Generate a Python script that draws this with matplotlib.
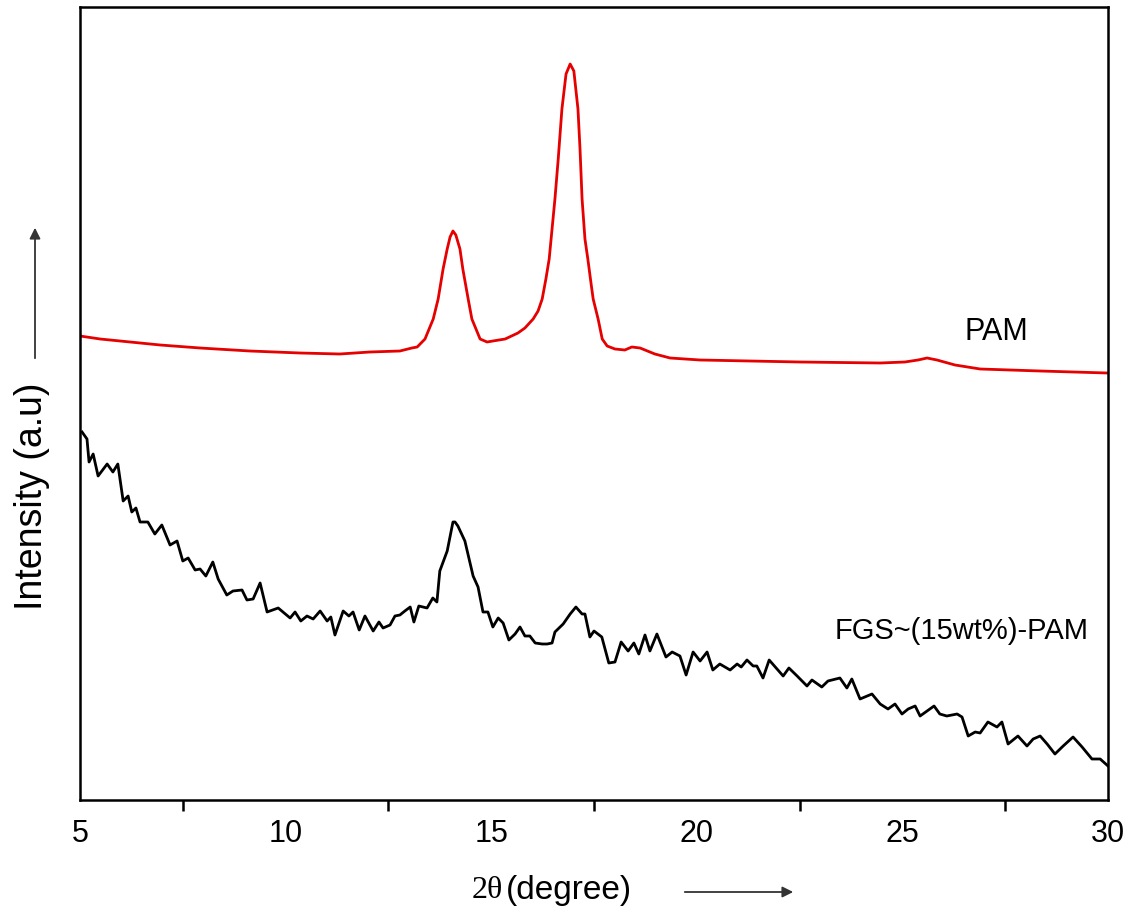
import matplotlib
matplotlib.use("Agg")
import matplotlib.pyplot as plt
from matplotlib.ticker import FixedLocator, NullFormatter

# ---- data (2theta in degree, intensity in arbitrary units) ----
pam_2theta = [5.00, 5.49, 6.22, 6.95, 7.92, 9.13, 10.35, 11.32, 12.05, 12.78,
              13.07, 13.20, 13.39, 13.59, 13.71, 13.83, 13.93, 14.00, 14.07, 14.14,
              14.24, 14.31, 14.44, 14.53, 14.73, 14.90, 15.04, 15.34, 15.65, 15.82,
              16.02, 16.14, 16.24, 16.33, 16.41, 16.48, 16.55, 16.63, 16.72, 16.82,
              16.92, 17.01, 17.11, 17.16, 17.21, 17.28, 17.35, 17.43, 17.48, 17.60,
              17.70, 17.82, 18.01, 18.25, 18.42, 18.62, 18.98, 19.35, 20.08, 21.29,
              22.51, 24.46, 25.06, 25.38, 25.60, 25.84, 26.28, 26.89, 28.35, 29.98]
pam_intensity = [464, 461, 458, 455, 452, 449, 447, 446, 448, 449,
                 452, 453, 461, 481, 501, 531, 551, 563, 569, 565,
                 551, 531, 501, 481, 461, 458, 459, 461, 467, 472,
                 481, 489, 501, 521, 541, 571, 601, 641, 691, 726,
                 736, 729, 691, 651, 601, 561, 541, 516, 501, 481,
                 461, 454, 451, 450, 453, 452, 446, 442, 440, 439,
                 438, 437, 438, 440, 442, 440, 435, 431, 429, 427]

fgs_2theta = [5.05, 5.17, 5.22, 5.32, 5.44, 5.66, 5.80, 5.92, 6.05, 6.17,
              6.26, 6.36, 6.46, 6.65, 6.82, 6.99, 7.19, 7.36, 7.50, 7.63,
              7.80, 7.92, 8.06, 8.23, 8.36, 8.57, 8.72, 8.94, 9.06, 9.21,
              9.38, 9.55, 9.82, 10.11, 10.23, 10.37, 10.52, 10.67, 10.84, 11.01,
              11.10, 11.20, 11.40, 11.54, 11.64, 11.79, 11.93, 12.13, 12.27, 12.37,
              12.54, 12.66, 12.78, 12.90, 13.03, 13.12, 13.24, 13.44, 13.58, 13.68,
              13.75, 13.93, 14.07,
              14.12, 14.19, 14.36, 14.56, 14.68, 14.80, 14.92, 15.04, 15.17, 15.29,
              15.43, 15.58, 15.70, 15.82, 15.94, 16.07, 16.24, 16.36, 16.48, 16.55,
              16.75, 16.92, 17.06, 17.21, 17.28, 17.40, 17.50, 17.69, 17.86, 18.01,
              18.16, 18.33, 18.47, 18.59, 18.74, 18.86, 19.03, 19.25, 19.40, 19.59,
              19.74, 19.91, 20.08, 20.25, 20.39, 20.56, 20.81, 20.98, 21.08, 21.22,
              21.37, 21.46, 21.61, 21.76, 21.95, 22.10,
              22.24, 22.44, 22.68, 22.80, 23.04, 23.19, 23.48, 23.65, 23.77, 23.97,
              24.26, 24.46, 24.65, 24.82, 24.99, 25.14, 25.31, 25.43, 25.60, 25.77,
              25.91, 26.08, 26.33, 26.45, 26.60, 26.77, 26.89, 27.08, 27.30, 27.42,
              27.57, 27.81, 28.03, 28.18, 28.35, 28.52, 28.71, 28.91, 29.15, 29.37,
              29.61, 29.81, 30.00]
fgs_intensity = [368, 361, 338, 346, 324, 336, 328, 336, 299, 304,
                 288, 292, 278, 278, 266, 275, 255, 259, 239, 242,
                 230, 231, 224, 238, 221, 205, 209, 210, 200, 201,
                 217, 188, 192, 182, 188, 179, 184, 181, 189, 179,
                 183, 165, 189, 184, 188, 170, 184, 169, 178, 172,
                 175, 184, 185, 189, 193, 178, 194, 192, 202, 198,
                 229, 249, 278,
                 278, 274, 259, 224, 213, 188, 188, 173, 182, 177,
                 160, 166, 173, 164, 164, 157, 156, 156, 157, 168,
                 176, 186, 193, 186, 186, 163, 169, 163, 137, 138,
                 158, 149, 157, 146, 165, 149, 166, 143, 148, 144,
                 125, 148, 139, 148, 130, 136, 130, 136, 133, 140,
                 134, 134, 122, 140, 131, 124,
                 132, 124, 114, 120, 113, 119, 122, 112, 121, 101,
                 106, 96, 91, 96, 86, 91, 94, 84, 89, 94,
                 86, 84, 86, 83, 64, 68, 67, 78, 73, 78,
                 56, 64, 54, 61, 64, 56, 46, 54, 63, 53,
                 41, 41, 34]

label_ticks = [5, 10, 15, 20, 25, 30]
mark_ticks = [7.5, 12.5, 17.5, 22.5, 27.5]

# ---- figure ----
plt.rcParams['font.family'] = ['Liberation Sans', 'DejaVu Sans']
W, H = 1134, 920
fig = plt.figure(figsize=(W / 100, H / 100), dpi=100)
ax = fig.add_axes([80 / W, 1 - 801 / H, 1028 / W, 793 / H])

ax.plot(pam_2theta, pam_intensity, color='#e60000', lw=2.0, solid_joinstyle='round')
ax.plot(fgs_2theta, fgs_intensity, color='black', lw=2.0, solid_joinstyle='round')

ax.set_xlim(5, 30)
ax.set_ylim(0, 793)
ax.set_yticks([])
ax.xaxis.set_major_locator(FixedLocator(label_ticks))
ax.xaxis.set_minor_locator(FixedLocator(mark_ticks))
ax.xaxis.set_minor_formatter(NullFormatter())
ax.set_xticklabels([str(t) for t in label_ticks])
ax.tick_params(axis='x', which='major', length=0, pad=13, labelsize=22)
ax.tick_params(axis='x', which='minor', direction='out', length=8, width=1.8)
for s in ax.spines.values():
    s.set_linewidth(1.8)

ax.text(26.52, 469, 'PAM', fontsize=22, ha='left', va='center')
ax.text(23.36, 170, 'FGS~(15wt%)-PAM', fontsize=21, ha='left', va='center')

# axis labels with arrows
fig.text(32 / W, 1 - 496 / H, 'Intensity (a.u)', rotation=90, fontsize=27,
         ha='center', va='center')
fig.text(472 / W, 1 - 891 / H, '2\u03b8', family=['Liberation Serif', 'DejaVu Serif'],
         fontsize=23, ha='left', va='center')
fig.text(506 / W, 1 - 891 / H, '(degree)', fontsize=24, ha='left', va='center')

arrow_kw = dict(arrowstyle='-|>', color='#333333', lw=1.3, mutation_scale=16)
fig.add_artist(matplotlib.patches.FancyArrowPatch(
    (35 / W, 1 - 362 / H), (35 / W, 1 - 226 / H), transform=fig.transFigure, **arrow_kw))
fig.add_artist(matplotlib.patches.FancyArrowPatch(
    (682 / W, 1 - 893 / H), (796 / W, 1 - 893 / H), transform=fig.transFigure, **arrow_kw))

fig.savefig('out.png', dpi=100)
